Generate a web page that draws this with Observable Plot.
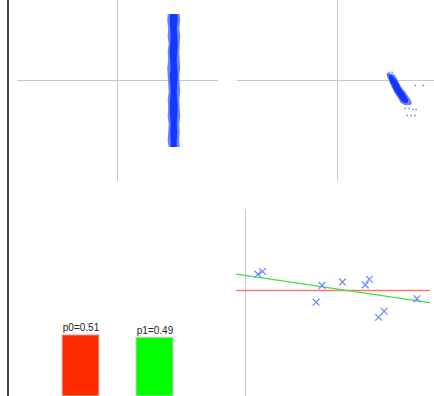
<!DOCTYPE html>
<html><head><meta charset="utf-8">
<script src="https://cdn.jsdelivr.net/npm/d3@7"></script>
<script src="https://cdn.jsdelivr.net/npm/@observablehq/plot@0.6"></script>
<style>
html,body{margin:0;padding:0;background:#fff;}
#wrap{position:relative;width:434px;height:396px;overflow:hidden;background:#fff;}
#wrap > svg{position:absolute;}
#border{position:absolute;left:7px;top:0;width:2px;height:396px;background:#444;}
</style></head><body><div id="wrap"><div id="border"></div></div>
<script>
// ---- Panel A: posterior samples band (vertical) ----
const blobAy      = [0.66,0.60,0.52,0.44,0.36,0.28,0.20,0.12,0.04,-0.04,-0.12,-0.20,-0.28,-0.36,-0.44,-0.52,-0.60,-0.67];
const blobAOuterL = [0.507,0.502,0.512,0.507,0.517,0.507,0.512,0.502,0.507,0.512,0.517,0.507,0.512,0.507,0.517,0.512,0.507,0.517];
const blobAOuterR = [0.627,0.632,0.622,0.632,0.627,0.622,0.627,0.632,0.622,0.627,0.632,0.622,0.627,0.632,0.622,0.627,0.622,0.627];
const blobAInnerL = [0.532,0.527,0.532,0.537,0.532,0.527,0.532,0.537,0.527,0.532,0.537,0.532,0.527,0.532,0.537,0.532,0.537,0.537];
const blobAInnerR = [0.602,0.607,0.597,0.602,0.607,0.602,0.597,0.602,0.607,0.602,0.597,0.602,0.607,0.602,0.597,0.602,0.597,0.597];

// ---- Panel B: posterior samples (diagonal cloud) ----
const blobBx      = [0.498,0.517,0.537,0.557,0.577,0.597,0.617,0.637,0.657,0.677,0.697,0.716,0.736,0.746];
const blobBTop    = [0.07,0.07,0.065,0.06,0.05,0.02,-0.02,-0.06,-0.09,-0.11,-0.14,-0.17,-0.20,-0.22];
const blobBBottom = [0.04,0.00,-0.05,-0.09,-0.13,-0.16,-0.19,-0.23,-0.24,-0.25,-0.25,-0.25,-0.25,-0.24];
const coreBx      = [0.517,0.537,0.557,0.577,0.597,0.617,0.637,0.657,0.677,0.697,0.711];
const coreBTop    = [0.055,0.05,0.04,0.02,-0.01,-0.04,-0.08,-0.11,-0.14,-0.17,-0.20];
const coreBBottom = [0.02,-0.03,-0.07,-0.11,-0.14,-0.17,-0.20,-0.22,-0.23,-0.23,-0.22];
const strayBx     = [0.776,0.856,0.677,0.716,0.756,0.786,0.697,0.736,0.776,0.517,0.547];
const strayBy     = [-0.05,-0.05,-0.28,-0.28,-0.29,-0.29,-0.35,-0.35,-0.35,0.08,0.08];

// ---- Panel C: class probabilities ----
const barCats   = ["p0","p1"];
const barProbs  = [0.51, 0.49];
const barColors = ["#ff2a00","#00ff00"];

// ---- Panel D: data points and fitted lines ----
const ptsX = [0.64,0.88,3.94,3.64,5.0,6.17,6.38,6.86,7.15,8.84];
const ptsY = [0.84,0.98,0.26,-0.60,0.44,0.29,0.58,-1.38,-1.07,-0.43];
const lineX    = [-0.46, 9.48];
const nullY    = [0, 0];
const fitY     = [0.84, -0.63];

const wrap = document.getElementById("wrap");
const place = (svg, left, top) => { svg.style.left = left + "px"; svg.style.top = top + "px"; wrap.appendChild(svg); };
const axisCol = "#c8c8c8", core = "#1437ff", fringe = "#6a84ff";
const base = {margin: 0, style: {background: "transparent", fontFamily: "Liberation Sans, Arial, sans-serif"}};

const blobA = blobAy.map((y, i) => ({y, o1: blobAOuterL[i], o2: blobAOuterR[i], i1: blobAInnerL[i], i2: blobAInnerR[i]}));
const A = Plot.plot({
  ...base, width: 201, height: 181,
  x: {domain: [-1, 1.01], axis: null},
  y: {domain: [-1.01, 0.8], axis: null},
  marks: [
    Plot.ruleY([0], {stroke: axisCol}),
    Plot.ruleX([0], {stroke: axisCol}),
    Plot.areaX(blobA, {y: "y", x1: "o1", x2: "o2", fill: fringe}),
    Plot.areaX(blobA, {y: "y", x1: "i1", x2: "i2", fill: core})
  ]
});
place(A, 17, 0);

const blobB = blobBx.map((x, i) => ({x, t: blobBTop[i], b: blobBBottom[i]}));
const coreB = coreBx.map((x, i) => ({x, t: coreBTop[i], b: coreBBottom[i]}));
const strayB = strayBx.map((x, i) => ({x, y: strayBy[i]}));
const B = Plot.plot({
  ...base, width: 201, height: 181,
  x: {domain: [-1, 1.01], axis: null},
  y: {domain: [-1.01, 0.8], axis: null},
  marks: [
    Plot.ruleY([0], {stroke: axisCol}),
    Plot.ruleX([0], {stroke: axisCol}),
    Plot.areaY(blobB, {x: "x", y1: "t", y2: "b", fill: fringe}),
    Plot.areaY(coreB, {x: "x", y1: "t", y2: "b", fill: core}),
    Plot.dot(strayB, {x: "x", y: "y", r: 0.9, fill: "#7a90ff", stroke: "none"})
  ]
});
place(B, 237, 0);

const bars = barCats.map((c, i) => ({c, p: barProbs[i], col: barColors[i]}));
const C = Plot.plot({
  ...base, width: 220, height: 206,
  x: {domain: barCats, range: [25, 210], padding: 0.5, axis: null, round: false},
  y: {domain: [0, 206 / 120], axis: null},
  marks: [
    Plot.barY(bars, {x: "c", y: "p", fill: "col", stroke: "#cccccc", strokeWidth: 1}),
    Plot.text(bars, {x: "c", y: "p", text: d => `${d.c}=${d.p}`, dy: -4, lineAnchor: "bottom", fontSize: 10, fill: "#222"})
  ]
});
place(C, 0, 190);

const pts = ptsX.map((x, i) => ({x, y: ptsY[i]}));
const nullLine = lineX.map((x, i) => ({x, y: nullY[i]}));
const fitLine = lineX.map((x, i) => ({x, y: fitY[i]}));
const D = Plot.plot({
  ...base, width: 214, height: 196,
  x: {domain: [0, 10], range: [25, 219], axis: null},
  y: {domain: [-5, 5], range: [187, -7], axis: null},
  marks: [
    Plot.ruleX([0], {y1: 4.15, y2: -5.6, stroke: axisCol}),
    Plot.line(nullLine, {x: "x", y: "y", stroke: "#ff7a66", strokeWidth: 1.3}),
    Plot.line(fitLine, {x: "x", y: "y", stroke: "#44dd44", strokeWidth: 1.3}),
    Plot.dot(pts, {x: "x", y: "y", symbol: "times", r: 3.2, stroke: "#6f86ff", strokeWidth: 1.2})
  ]
});
place(D, 220, 200);
</script>
</body></html>
